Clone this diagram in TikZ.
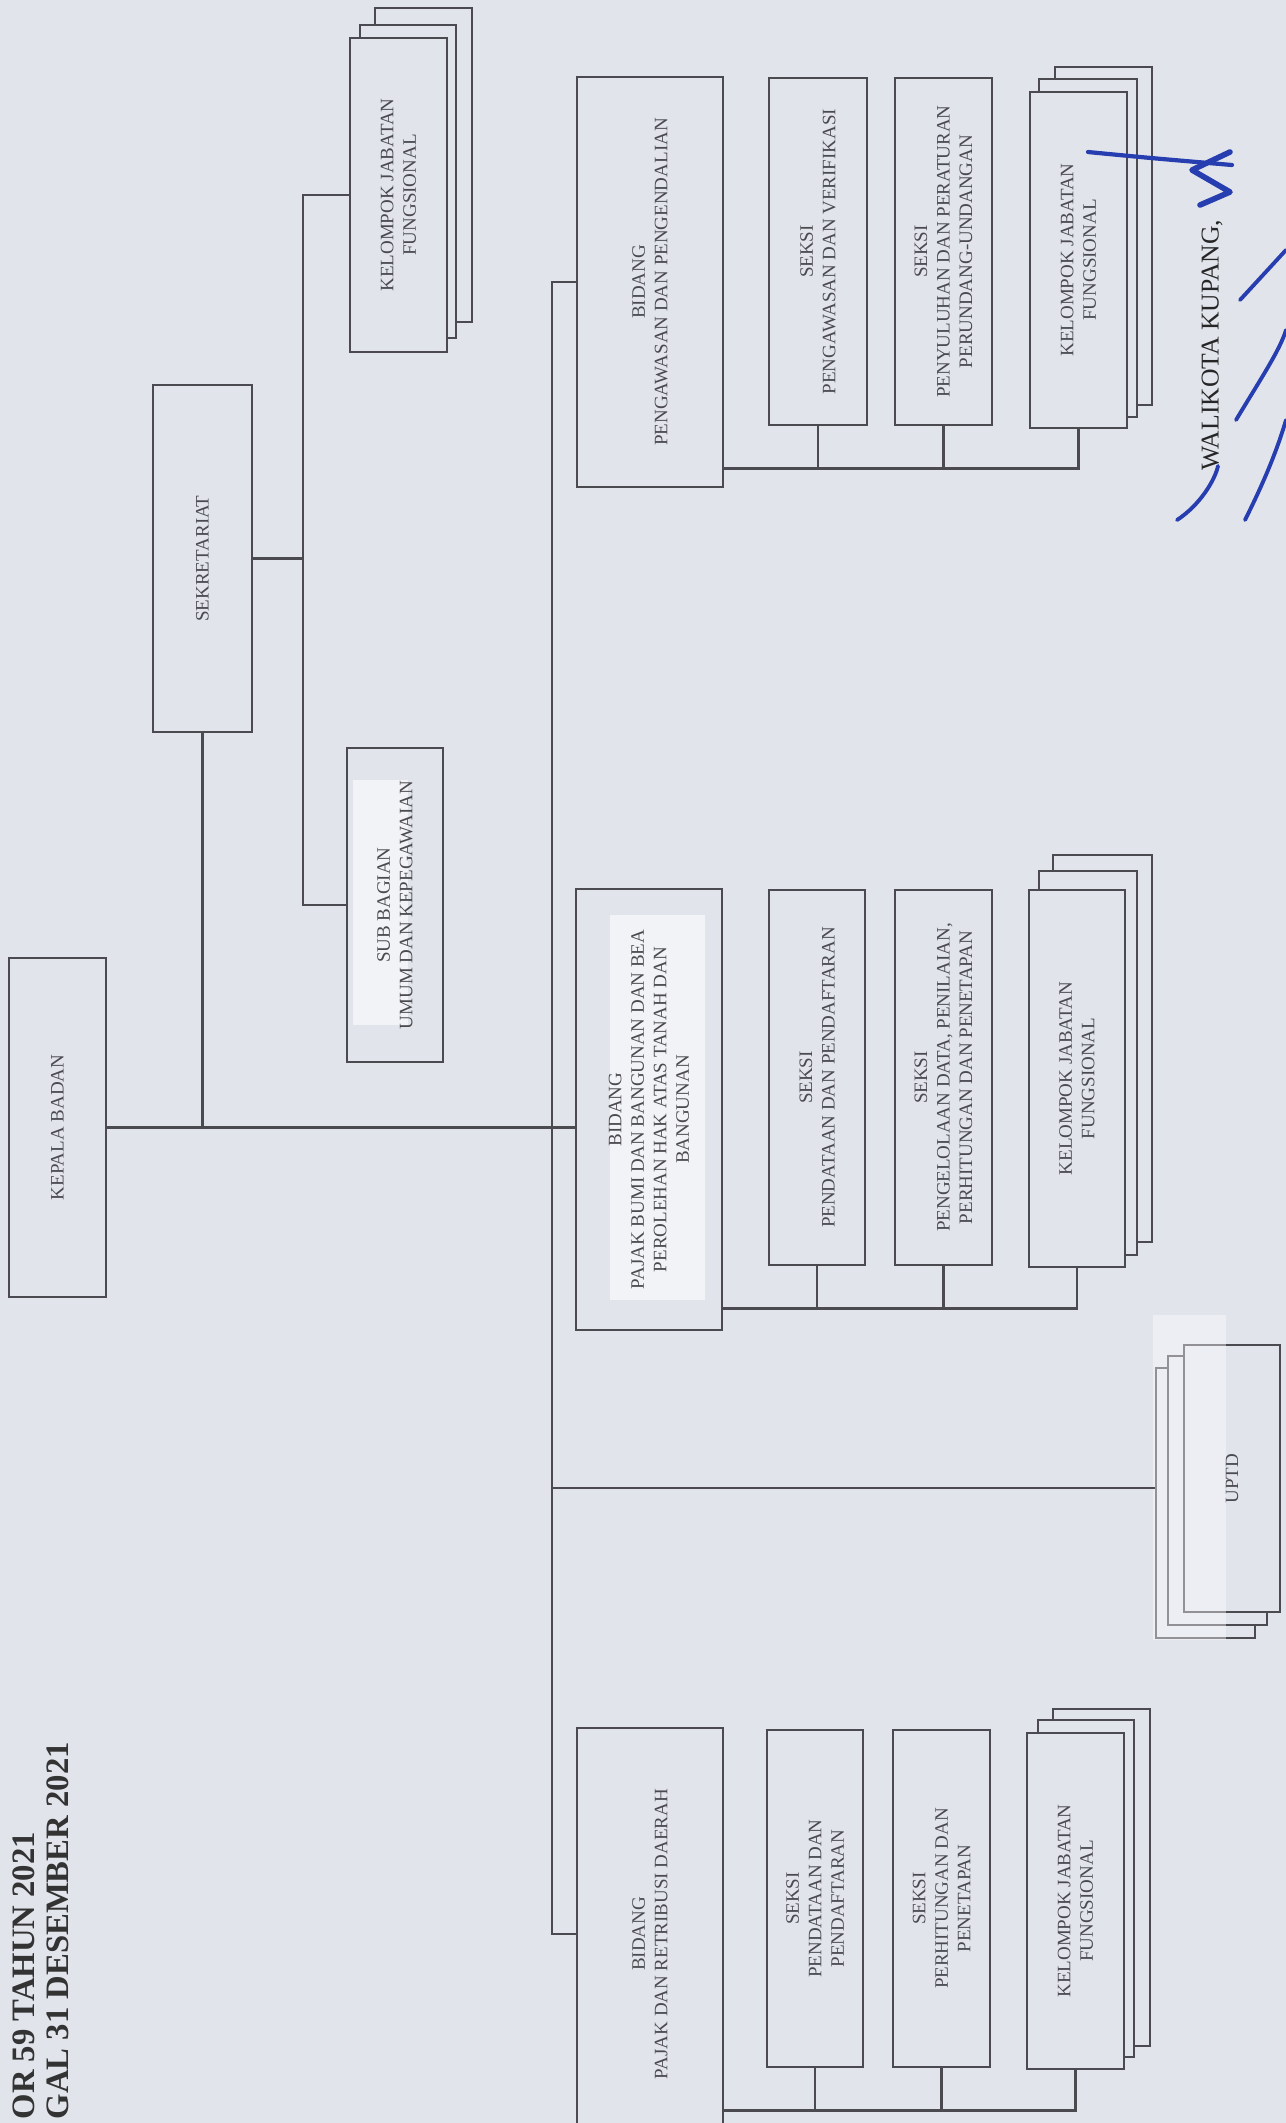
\documentclass[tikz,border=0pt]{standalone}
\usepackage{fontspec}
\setmainfont{Liberation Serif}
\definecolor{scan}{RGB}{226,228,236}
\definecolor{ink}{RGB}{74,74,80}
\definecolor{pen}{RGB}{38,62,175}
\begin{document}
\begin{tikzpicture}[x=0.01cm, y=-0.01cm,
    box/.style={draw=ink, line width=0.7pt, rotate=90, inner sep=1pt, align=center,
      text=ink, font=\fontsize{5.4}{6.4}\selectfont},
    card/.style={box, fill=scan},
    link/.style={draw=ink, line width=0.7pt},
    patch/.style={fill=white!55!scan}]

    \useasboundingbox (0,0) rectangle (1286,2123);
    \fill[scan] (0,0) rectangle (1286,2123);
    \clip (0,0) rectangle (1286,2123);

    % header, cut at the page edge
    \node[rotate=90, anchor=west, inner sep=0pt, text=black!80,
      font=\bfseries\fontsize{9.3}{10}\selectfont] (nomor) at (24,2120) {OR 59 TAHUN 2021};
    \node[rotate=90, anchor=west, inner sep=0pt, text=black!80,
      font=\bfseries\fontsize{9.3}{10}\selectfont] (tanggal) at (58,2120) {GAL 31 DESEMBER 2021};

    % white patches of the scan
    \fill[patch] (353,780) rectangle (408,1025);
    \fill[patch] (610,915) rectangle (705,1300);

    \node[box, minimum width=3.39cm, minimum height=0.97cm] (kepala) at (57.5,1127.5) {KEPALA BADAN};

    % sekretariat
    \node[box, minimum width=3.47cm, minimum height=0.99cm] (sekretariat) at (202.5,558.5) {SEKRETARIAT};
    \node[card, minimum width=3.14cm, minimum height=0.97cm] (kjfsekC) at (423.5,165) {};
    \node[card, minimum width=3.13cm, minimum height=0.96cm] (kjfsekB) at (408,181.5) {};
    \node[card, minimum width=3.14cm, minimum height=0.97cm] (kjfsek) at (398.5,195) {KELOMPOK JABATAN\\FUNGSIONAL};
    \node[box, minimum width=3.14cm, minimum height=0.96cm] (subbag) at (395,905) {SUB BAGIAN\\UMUM DAN KEPEGAWAIAN};

    % bidang pengawasan
    \node[box, minimum width=4.10cm, minimum height=1.46cm] (bidwas) at (650,282) {BIDANG\\PENGAWASAN DAN PENGENDALIAN};
    \node[box, minimum width=3.47cm, minimum height=0.98cm] (seksiwas1) at (818,251.5) {SEKSI\\PENGAWASAN DAN VERIFIKASI};
    \node[box, minimum width=3.47cm, minimum height=0.97cm] (seksiwas2) at (943.5,251.5) {SEKSI\\PENYULUHAN DAN PERATURAN\\PERUNDANG-UNDANGAN};
    \node[card, minimum width=3.38cm, minimum height=0.97cm] (kjfwasC) at (1103.5,236) {};
    \node[card, minimum width=3.38cm, minimum height=0.98cm] (kjfwasB) at (1088,248) {};
    \node[card, minimum width=3.36cm, minimum height=0.97cm] (kjfwas) at (1078.5,260) {KELOMPOK JABATAN\\FUNGSIONAL};

    % bidang pbb
    \node[box, minimum width=4.41cm, minimum height=1.46cm] (bidpbb) at (649,1109.5) {BIDANG\\PAJAK BUMI DAN BANGUNAN DAN BEA\\PEROLEHAN HAK ATAS TANAH DAN\\BANGUNAN};
    \node[box, minimum width=3.75cm, minimum height=0.96cm] (seksipbb1) at (817,1077.5) {SEKSI\\PENDATAAN DAN PENDAFTARAN};
    \node[box, minimum width=3.75cm, minimum height=0.97cm] (seksipbb2) at (943.5,1077.5) {SEKSI\\PENGELOLAAN DATA, PENILAIAN,\\PERHITUNGAN DAN PENETAPAN};
    \node[card, minimum width=3.87cm, minimum height=0.99cm] (kjfpbbC) at (1102.5,1048.5) {};
    \node[card, minimum width=3.84cm, minimum height=0.98cm] (kjfpbbB) at (1088,1063) {};
    \node[card, minimum width=3.77cm, minimum height=0.96cm] (kjfpbb) at (1077,1078.5) {KELOMPOK JABATAN\\FUNGSIONAL};

    % uptd
    \node[card, minimum width=2.70cm, minimum height=0.99cm] (uptdC) at (1205.5,1503) {};
    \node[card, minimum width=2.69cm, minimum height=0.99cm] (uptdB) at (1217.5,1490.5) {};
    \node[card, minimum width=2.67cm, minimum height=0.96cm] (uptd) at (1232,1478.5) {UPTD};
    \fill[white, fill opacity=0.4] (1153,1315) rectangle (1226,1640);

    % bidang pajak daerah
    \node[box, minimum width=4.12cm, minimum height=1.46cm] (bidpd) at (650,1934) {BIDANG\\PAJAK DAN RETRIBUSI DAERAH};
    \node[box, minimum width=3.37cm, minimum height=0.96cm] (seksipd1) at (815,1898.5) {SEKSI\\PENDATAAN DAN\\PENDAFTARAN};
    \node[box, minimum width=3.37cm, minimum height=0.97cm] (seksipd2) at (941.5,1898.5) {SEKSI\\PERHITUNGAN DAN\\PENETAPAN};
    \node[card, minimum width=3.37cm, minimum height=0.97cm] (kjfpdC) at (1101.5,1877.5) {};
    \node[card, minimum width=3.37cm, minimum height=0.96cm] (kjfpdB) at (1086,1888.5) {};
    \node[card, minimum width=3.36cm, minimum height=0.97cm] (kjfpd) at (1075.5,1901) {KELOMPOK JABATAN\\FUNGSIONAL};

    % main lines
    \coordinate (trunk) at (552,282);
    \draw[link] (bidwas.north) -- (trunk) -- (trunk |- bidpd.north) -- (bidpd.north);
    \draw[link] (kepala.south) -- (kepala.south -| bidpbb.north);
    \draw[link] ([yshift=0.15cm]uptdC.north) -- ([yshift=0.15cm]uptdC.north -| trunk);
    \draw[link] (sekretariat.west) -- (sekretariat.west |- kepala.south);

    \coordinate (sekbar) at (303,558.5);
    \draw[link, line width=1.1pt] (sekretariat.south) -- (sekbar);
    \draw[link] (kjfsek.north) -| (sekbar) |- (subbag.north);

    % lines below each bidang
    \coordinate (rakewas) at ([yshift=0.2cm]bidwas.south west);
    \draw[link] (rakewas) -| (kjfwas.west);
    \draw[link] (seksiwas1.west) -- (seksiwas1.west |- rakewas);
    \draw[link] (seksiwas2.west) -- (seksiwas2.west |- rakewas);

    \coordinate (rakepbb) at ([yshift=0.23cm]bidpbb.south west);
    \draw[link] (rakepbb) -| (kjfpbb.west);
    \draw[link] (seksipbb1.west) -- (seksipbb1.west |- rakepbb);
    \draw[link] (seksipbb2.west) -- (seksipbb2.west |- rakepbb);

    \coordinate (rakepd) at ([yshift=0.31cm]bidpd.south west);
    \draw[link] (rakepd) -| (kjfpd.west);
    \draw[link] (seksipd1.west) -- (seksipd1.west |- rakepd);
    \draw[link] (seksipd2.west) -- (seksipd2.west |- rakepd);

    % signature
    \node[rotate=90, inner sep=0pt, text=black!85, font=\fontsize{7.3}{8}\selectfont] (walikota) at (1212,345) {WALIKOTA KUPANG,};
    \draw[pen, line width=1.2pt, line cap=round] (1088,152) .. controls (1150,158) .. (1232,165);
    \draw[pen, line width=1.6pt, line cap=round, line join=round] (1230,152) -- (1192,170) -- (1230,192) -- (1200,205);
    \draw[pen, line width=1.1pt, line cap=round] (1177,520) .. controls (1200,505) and (1215,480) .. (1218,466);
    \draw[pen, line width=1.1pt, line cap=round] (1240,300) -- (1286,250);
    \draw[pen, line width=1.1pt, line cap=round] (1236,420) .. controls (1260,380) and (1280,350) .. (1286,330);
    \draw[pen, line width=1.1pt, line cap=round] (1245,520) .. controls (1270,470) and (1280,440) .. (1286,420);
\end{tikzpicture}
\end{document}
